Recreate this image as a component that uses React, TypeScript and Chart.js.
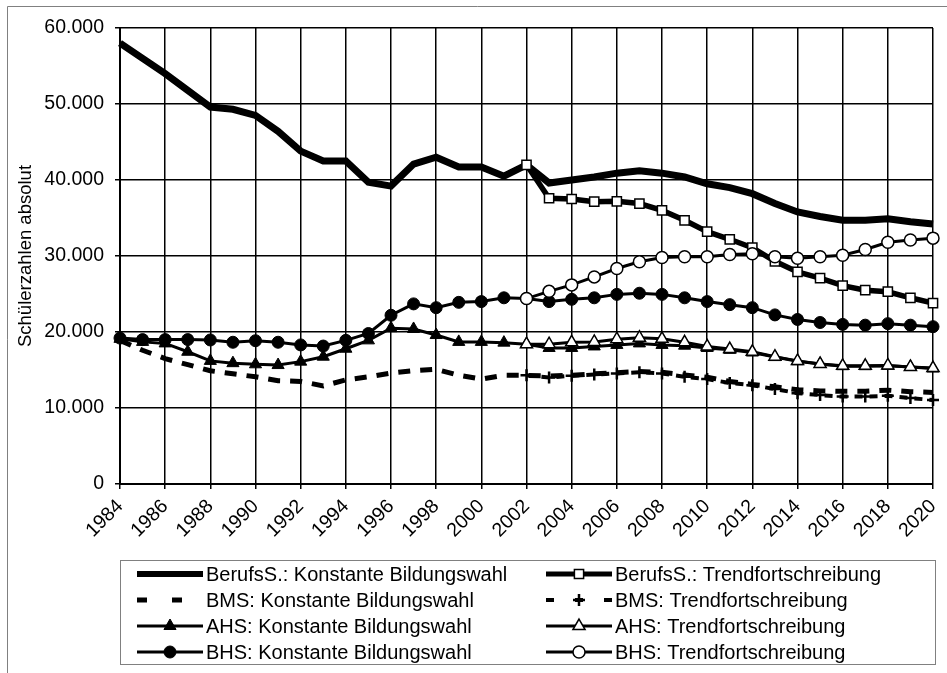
import React, { useEffect, useRef } from "react";
import { Chart, registerables } from "chart.js";

Chart.register(...registerables);

const years: string[] = [
  "1984", "1985", "1986", "1987", "1988", "1989", "1990", "1991", "1992", "1993",
  "1994", "1995", "1996", "1997", "1998", "1999", "2000", "2001", "2002", "2003",
  "2004", "2005", "2006", "2007", "2008", "2009", "2010", "2011", "2012", "2013",
  "2014", "2015", "2016", "2017", "2018", "2019", "2020",
];

const yTicks: number[] = [0, 10000, 20000, 30000, 40000, 50000, 60000];

const seriesLabels: string[] = [
  "BerufsS.: Konstante Bildungswahl",
  "BerufsS.: Trendfortschreibung",
  "BMS: Konstante Bildungswahl",
  "BMS: Trendfortschreibung",
  "AHS: Konstante Bildungswahl",
  "AHS: Trendfortschreibung",
  "BHS: Konstante Bildungswahl",
  "BHS: Trendfortschreibung",
];

const berufsKonst: (number | null)[] = [
  58000, 56000, 54000, 51800, 49600, 49300, 48500, 46400, 43800, 42500,
  42500, 39700, 39200, 42100, 43000, 41700, 41700, 40500, 42000, 39600,
  40000, 40400, 40900, 41200, 40900, 40400, 39500, 39000, 38200, 36900,
  35800, 35200, 34700, 34700, 34900, 34500, 34200,
];
const berufsTrend: (number | null)[] = [
  null, null, null, null, null, null, null, null, null, null,
  null, null, null, null, null, null, null, null, 42000, 37600,
  37500, 37150, 37200, 36900, 36000, 34700, 33200, 32200, 31100, 29300,
  27900, 27100, 26100, 25500, 25300, 24500, 23800,
];
const bmsKonst: (number | null)[] = [
  18900, 17600, 16500, 15700, 14900, 14500, 14100, 13600, 13500, 12900,
  13700, 14100, 14600, 14900, 15100, 14300, 13800, 14300, 14300, 14200,
  14300, 14500, 14650, 14800, 14700, 14350, 14050, 13500, 13100, 12800,
  12400, 12250, 12200, 12200, 12350, 12150, 12050,
];
const bmsTrend: (number | null)[] = [
  null, null, null, null, null, null, null, null, null, null,
  null, null, null, null, null, null, null, null, 14300, 14000,
  14250, 14400, 14550, 14700, 14550, 14100, 13800, 13300, 13000, 12500,
  11950, 11700, 11500, 11500, 11600, 11300, 11050,
];
const ahsKonst: (number | null)[] = [
  19100, 18700, 18500, 17400, 16200, 15900, 15750, 15650, 16100, 16750,
  17800, 18900, 20500, 20400, 19600, 18700, 18700, 18600, 18400, 17900,
  17900, 18100, 18300, 18500, 18300, 18200, 17900, 17650, 17300, 16700,
  16150, 15800, 15500, 15500, 15550, 15400, 15200,
];
const ahsTrend: (number | null)[] = [
  null, null, null, null, null, null, null, null, null, null,
  null, null, null, null, null, null, null, null, 18400, 18400,
  18650, 18700, 19050, 19250, 19100, 18650, 18100, 17750, 17400, 16750,
  16200, 15800, 15550, 15550, 15600, 15400, 15250,
];
const bhsKonst: (number | null)[] = [
  19200, 19000, 19000, 19000, 18950, 18650, 18850, 18650, 18300, 18150,
  18900, 19800, 22200, 23700, 23200, 23900, 24000, 24500, 24400, 24000,
  24300, 24500, 24950, 25100, 24950, 24500, 24000, 23600, 23200, 22250,
  21650, 21250, 21000, 20900, 21100, 20900, 20700,
];
const bhsTrend: (number | null)[] = [
  null, null, null, null, null, null, null, null, null, null,
  null, null, null, null, null, null, null, null, 24400, 25350,
  26200, 27250, 28350, 29250, 29800, 29900, 29900, 30200, 30300, 29900,
  29700, 29900, 30100, 30850, 31800, 32100, 32350,
];

const FONT = "'Liberation Sans', Arial, Helvetica, sans-serif";

function fmt(v: number): string {
  return String(Math.round(v)).replace(/\B(?=(\d{3})+(?!\d))/g, ".");
}

function drawMarker(ctx: CanvasRenderingContext2D, style: string, x: number, y: number, r: number, fill: string, bw: number) {
  ctx.save();
  ctx.setLineDash([]);
  ctx.lineWidth = bw;
  ctx.strokeStyle = "#000";
  ctx.fillStyle = fill;
  ctx.beginPath();
  if (style === "rect") {
    const s = r * Math.SQRT1_2;
    ctx.rect(x - s, y - s, 2 * s, 2 * s);
    ctx.fill();
    ctx.stroke();
  } else if (style === "circle") {
    ctx.arc(x, y, r, 0, Math.PI * 2);
    ctx.fill();
    ctx.stroke();
  } else if (style === "triangle") {
    ctx.moveTo(x, y - r);
    ctx.lineTo(x + 0.866 * r, y + r / 2);
    ctx.lineTo(x - 0.866 * r, y + r / 2);
    ctx.closePath();
    ctx.fill();
    ctx.stroke();
  } else if (style === "cross") {
    ctx.moveTo(x, y - r);
    ctx.lineTo(x, y + r);
    ctx.moveTo(x - r, y);
    ctx.lineTo(x + r, y);
    ctx.stroke();
  }
  ctx.restore();
}

const framePlugin = {
  id: "frameAndLegend",
  beforeDraw(chart: any) {
    const ctx = chart.ctx;
    ctx.save();
    ctx.fillStyle = "#fff";
    ctx.fillRect(0, 0, chart.width, chart.height);
    ctx.restore();
  },
  afterDraw(chart: any) {
    const ctx: CanvasRenderingContext2D = chart.ctx;
    ctx.save();
    ctx.strokeStyle = "#808080";
    ctx.lineWidth = 1;
    ctx.setLineDash([]);
    ctx.beginPath();
    ctx.moveTo(7.5, chart.height);
    ctx.lineTo(7.5, 6.5);
    ctx.lineTo(chart.width, 6.5);
    ctx.stroke();
    ctx.strokeRect(120.5, 560.5, 815, 104);
    ctx.font = "20px " + FONT;
    ctx.fillStyle = "#000";
    ctx.textBaseline = "middle";
    ctx.textAlign = "left";
    chart.data.datasets.forEach((ds: any, i: number) => {
      const col = i % 2;
      const row = Math.floor(i / 2);
      const x0 = col === 0 ? 137 : 546;
      const x1 = x0 + 66;
      const y = 574 + row * 26;
      ctx.strokeStyle = "#000";
      ctx.lineCap = "butt";
      ctx.lineWidth = ds.legendWidth;
      ctx.setLineDash(ds.legendDash || []);
      ctx.beginPath();
      ctx.moveTo(x0, y);
      ctx.lineTo(x1, y);
      ctx.stroke();
      ctx.setLineDash([]);
      if (ds.pointRadius > 0) {
        drawMarker(ctx, ds.pointStyle, (x0 + x1) / 2, y, ds.pointRadius, ds.pointBackgroundColor, ds.pointBorderWidth);
      }
      ctx.fillStyle = "#000";
      ctx.fillText(ds.label, x1 + 3, y + 1);
    });
    ctx.restore();
  },
};

export default function App() {
  const ref = useRef<HTMLCanvasElement | null>(null);

  useEffect(() => {
    if (!ref.current) return;
    const base = { borderColor: "#000", fill: false, tension: 0, spanGaps: false };
    const chart = new Chart(ref.current, {
      type: "line",
      data: {
        labels: years,
        datasets: [
          { ...base, label: seriesLabels[0], data: berufsKonst, borderWidth: 7, pointRadius: 0, pointStyle: "circle", pointBackgroundColor: "#000", pointBorderWidth: 0, legendWidth: 6, order: 8 },
          { ...base, label: seriesLabels[1], data: berufsTrend, borderWidth: 5.5, pointRadius: 6.5, pointStyle: "rect", pointBackgroundColor: "#fff", pointBorderColor: "#000", pointBorderWidth: 1.5, legendWidth: 5, order: 7 },
          { ...base, label: seriesLabels[2], data: bmsKonst, borderWidth: 5, borderDash: [12, 10], pointRadius: 0, pointStyle: "circle", pointBackgroundColor: "#000", pointBorderWidth: 0, legendWidth: 5, legendDash: [10, 25], order: 6 },
          { ...base, label: seriesLabels[3], data: bmsTrend, borderWidth: 4, borderDash: [8, 7], pointRadius: 6, pointStyle: "cross", pointBackgroundColor: "#000", pointBorderColor: "#000", pointBorderWidth: 2.5, legendWidth: 4, legendDash: [8, 21], order: 5 },
          { ...base, label: seriesLabels[4], data: ahsKonst, borderWidth: 3, pointRadius: 7, pointStyle: "triangle", pointBackgroundColor: "#000", pointBorderColor: "#000", pointBorderWidth: 1, legendWidth: 3, order: 4 },
          { ...base, label: seriesLabels[5], data: ahsTrend, borderWidth: 3, pointRadius: 7, pointStyle: "triangle", pointBackgroundColor: "#fff", pointBorderColor: "#000", pointBorderWidth: 1.5, legendWidth: 3, order: 3 },
          { ...base, label: seriesLabels[6], data: bhsKonst, borderWidth: 3, pointRadius: 6, pointStyle: "circle", pointBackgroundColor: "#000", pointBorderColor: "#000", pointBorderWidth: 1, legendWidth: 3, order: 2 },
          { ...base, label: seriesLabels[7], data: bhsTrend, borderWidth: 3, pointRadius: 6, pointStyle: "circle", pointBackgroundColor: "#fff", pointBorderColor: "#000", pointBorderWidth: 1.5, legendWidth: 3, order: 1 },
        ] as any,
      },
      options: {
        animation: false,
        responsive: false,
        devicePixelRatio: 1,
        layout: { padding: { left: 0, top: 28, right: 14, bottom: 119 } },
        plugins: { legend: { display: false }, tooltip: { enabled: false } },
        scales: {
          x: {
            type: "category",
            offset: false,
            grid: {
              color: (c: any) => (c.index % 2 === 0 ? "#000" : "rgba(0,0,0,0)"),
              lineWidth: 1.5,
              tickLength: 5,
              drawTicks: true,
            },
            border: { display: true, color: "#000", width: 2 },
            ticks: {
              autoSkip: false,
              minRotation: 45,
              maxRotation: 45,
              padding: 6,
              color: "#000",
              font: { family: FONT, size: 19.5 },
              callback: (_v: any, i: number) => (i % 2 === 0 ? years[i] : ""),
            },
            afterFit: (s: any) => {
              s.height = 70;
              s.paddingLeft = 0;
              s.paddingRight = 0;
            },
          },
          y: {
            min: 0,
            max: 60000,
            afterBuildTicks: (s: any) => {
              s.ticks = yTicks.map((v) => ({ value: v }));
            },
            grid: { color: "#000", lineWidth: 1.5, tickLength: 5, drawTicks: true },
            border: { display: true, color: "#000", width: 2 },
            ticks: {
              padding: 11,
              color: "#000",
              font: { family: FONT, size: 19.5 },
              callback: (v: any) => fmt(Number(v)),
            },
            title: {
              display: true,
              text: "Schülerzahlen absolut",
              color: "#000",
              font: { family: FONT, size: 18.5 },
              padding: { top: 15, bottom: 0 },
            },
            afterFit: (s: any) => {
              s.width = 120;
              s.paddingTop = 0;
              s.paddingBottom = 0;
            },
          },
        },
      } as any,
      plugins: [framePlugin],
    });
    return () => chart.destroy();
  }, []);

  return (
    <div style={{ position: "absolute", left: 0, top: 0, width: 947, height: 673, background: "#fff" }}>
      <canvas ref={ref} width={947} height={673} style={{ width: 947, height: 673, display: "block" }} />
    </div>
  );
}
